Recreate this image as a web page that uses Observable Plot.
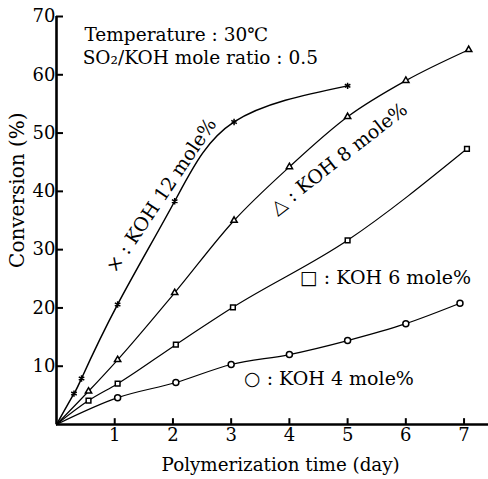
<!DOCTYPE html>
<html><head><meta charset="utf-8">
<script src="https://cdn.jsdelivr.net/npm/d3@7"></script>
<script src="https://cdn.jsdelivr.net/npm/@observablehq/plot@0.6"></script>
<style>body{margin:0;background:#fff}</style>
</head><body><div id="chart"></div>
<script>
// Measured conversion (%) vs polymerization time (day)
const koh12Days = [0.3, 0.43, 1.05, 2.03, 3.05, 5.0];
const koh12Conv = [5.3, 7.9, 20.6, 38.3, 51.9, 58.1];
const koh8Days = [0.55, 1.05, 2.03, 3.05, 4.0, 5.0, 6.0, 7.08];
const koh8Conv = [5.7, 11.1, 22.6, 35.0, 44.2, 52.8, 59.0, 64.3];
const koh6Days = [0.55, 1.05, 2.05, 3.03, 5.0, 7.05];
const koh6Conv = [4.1, 7.0, 13.7, 20.1, 31.6, 47.3];
const koh4Days = [1.05, 2.05, 3.0, 4.0, 5.0, 6.0, 6.93];
const koh4Conv = [4.6, 7.2, 10.3, 12.0, 14.4, 17.3, 20.8];

const xTicks = [1, 2, 3, 4, 5, 6, 7];
const yTicks = [10, 20, 30, 40, 50, 60, 70];

const seriesNames = ["KOH 12", "KOH 8", "KOH 6", "KOH 4"];
const seriesSymbols = ["asterisk", "triangle2", "square2", "circle"];
const seriesCurves = ["natural", "monotone-x", "monotone-x", "monotone-x"];

// annotation texts
const titleLines = ["Temperature : 30℃", "SO₂/KOH mole ratio : 0.5"];
const seriesLabels = ["× : KOH 12 mole%", "△ : KOH 8 mole%", "□ : KOH 6 mole%", "○ : KOH 4 mole%"];
const xLabel = "Polymerization time (day)";
const yLabel = "Conversion (%)";

// build tables
const allDays = [koh12Days, koh8Days, koh6Days, koh4Days];
const allConv = [koh12Conv, koh8Conv, koh6Conv, koh4Conv];
const points = [];
allDays.forEach((ds, i) => ds.forEach((d, j) => points.push({series: seriesNames[i], symbol: seriesSymbols[i], day: d, conv: allConv[i][j]})));
const curves = seriesNames.map((s, i) => [{day: 0, conv: 0}].concat(allDays[i].map((d, j) => ({day: d, conv: allConv[i][j]}))));

// label placement (layout, in data units)
const titleLayout = [{text: titleLines[0], day: 0.48, conv: 66.8}, {text: titleLines[1], day: 0.45, conv: 62.8}];
const labelLayout = [
  {text: seriesLabels[0], day: 1.80, conv: 39.3, rotate: -56},
  {text: seriesLabels[1], day: 4.85, conv: 45.6, rotate: -38},
  {text: seriesLabels[2], day: 5.65, conv: 25.2, rotate: 0},
  {text: seriesLabels[3], day: 4.68, conv: 7.9, rotate: 0}
];

const chart = Plot.plot({
  width: 488, height: 479,
  marginLeft: 56, marginRight: 0, marginTop: 16, marginBottom: 55,
  x: {domain: [0, 7.42]},
  y: {domain: [0, 70]},
  style: {fontFamily: "DejaVu Serif", fontSize: "18px", background: "white", color: "black", overflow: "visible"},
  marks: [
    Plot.axisX({ticks: xTicks, tickSize: 0, tickPadding: 4, label: null, fontSize: 18}),
    Plot.axisY({ticks: yTicks, tickSize: 0, tickPadding: 1, label: null, fontSize: 18}),
    Plot.ruleX(xTicks, {x: d => d, y1: 0, y2: 1.0, strokeWidth: 2}),
    Plot.ruleY(yTicks, {y: d => d, x1: 0, x2: 0.12, strokeWidth: 2}),
    Plot.ruleX([0], {strokeWidth: 2.6}),
    Plot.ruleY([0], {strokeWidth: 2.6}),
    ...curves.map((c, i) => Plot.line(c, {x: "day", y: "conv", curve: seriesCurves[i], stroke: "black", strokeWidth: i === 0 ? 1.5 : 1.2})),
    Plot.dot(points, {x: "day", y: "conv", symbol: "symbol", r: 3, stroke: "black", fill: "white", strokeWidth: 1.5}),
    Plot.text(titleLayout, {x: "day", y: "conv", text: "text", textAnchor: "start", fontSize: 18.5}),
    Plot.text(labelLayout, {x: "day", y: "conv", text: "text", rotate: "rotate", fontSize: 19}),
    Plot.text([xLabel], {x: 3.85, y: -6.9, text: d => d, fontSize: 18.3}),
    Plot.text([yLabel], {x: -0.67, y: 40.2, text: d => d, rotate: -90, fontSize: 20})
  ]
});
document.getElementById("chart").appendChild(chart);
</script>
</body></html>
